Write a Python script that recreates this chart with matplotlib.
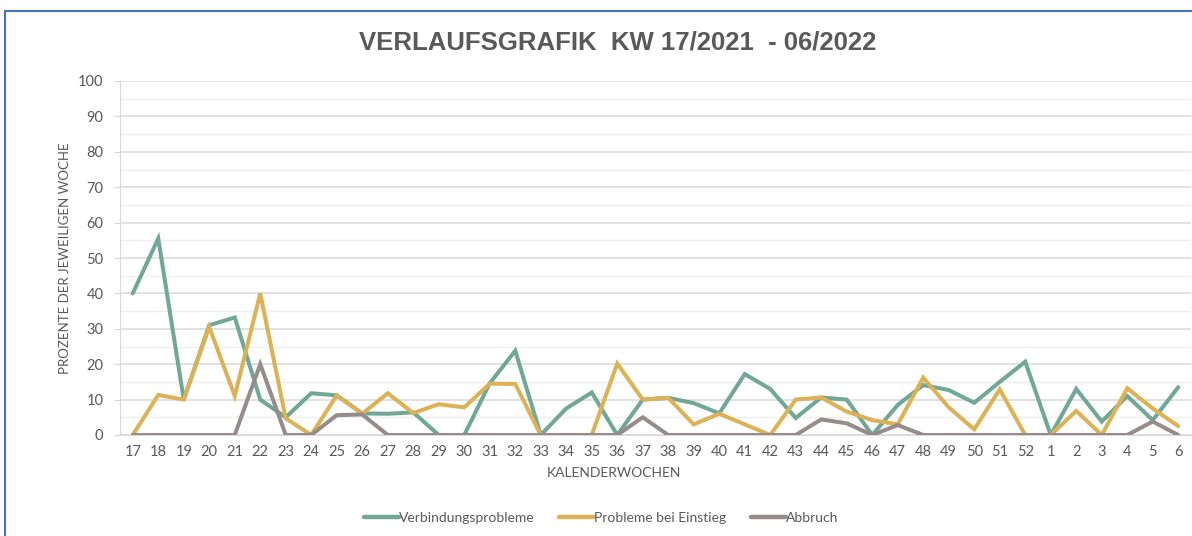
import matplotlib
matplotlib.use("Agg")
import matplotlib.pyplot as plt
from matplotlib.lines import Line2D
from matplotlib.ticker import MultipleLocator

weeks = [str(w) for w in range(17, 53)] + [str(w) for w in range(1, 7)]

verbindung = [40, 55.5, 10, 31, 33.2, 10, 5, 11.8, 11.2, 6.1, 6, 6.4,
              0, 0, 14.6, 23.8, 0, 7.5, 12, 0, 10, 10.5, 9, 6.1,
              17.2, 13, 4.8, 10.6, 10, 0, 8.5, 14.1, 12.7, 9.1, 15, 20.7,
              0, 13, 3.8, 11, 4.2, 13.5]
einstieg = [0, 11.3, 10, 30.5, 11, 40, 4.7, 0, 11.2, 6, 11.8, 6.2,
            8.7, 7.8, 14.5, 14.4, 0, 0, 0, 20.2, 10, 10.5, 3, 6,
            3, 0, 10, 10.6, 6.6, 4.2, 3, 16.2, 7.8, 1.6, 12.9, 0,
            0, 6.8, 0, 13.2, 7.5, 2.5]
abbruch = [0, 0, 0, 0, 0, 20, 0, 0, 5.6, 5.8, 0, 0,
           0, 0, 0, 0, 0, 0, 0, 0, 5, 0, 0, 0,
           0, 0, 0, 4.4, 3.3, 0, 2.8, 0, 0, 0, 0, 0,
           0, 0, 0, 0, 3.8, 0]

series_names = ["Verbindungsprobleme", "Probleme bei Einstieg", "Abbruch"]
colors = ["#70a797", "#dcb257", "#978c8c"]

W, H = 1192, 536
fig = plt.figure(figsize=(W / 100, H / 100), dpi=100)
fig.patch.set_facecolor("white")

# screenshot frame (blue)
fig.add_artist(Line2D([5 / W, 1], [1 - 11 / H, 1 - 11 / H], color="#4a72c0", lw=1.5))
fig.add_artist(Line2D([5 / W, 5 / W], [0, 1 - 11 / H], color="#4a72c0", lw=1.5))

ax = fig.add_axes([120 / W, 1 - 435 / H, 1071 / W, 354 / H])
x = list(range(len(weeks)))
for vals, c, n in zip([verbindung, einstieg, abbruch], colors, series_names):
    ax.plot(x, vals, color=c, lw=2.9, label=n, solid_capstyle="round",
            solid_joinstyle="miter", zorder=3)

ax.set_xlim(-0.5, len(weeks) - 0.5)
ax.set_ylim(0, 100)
ax.yaxis.set_major_locator(MultipleLocator(10))
ax.yaxis.set_minor_locator(MultipleLocator(5))
ax.grid(axis="y", which="major", color="#d9d9d9", lw=1.1, zorder=0)
ax.grid(axis="y", which="minor", color="#efefef", lw=1.0, zorder=0)
ax.set_axisbelow(True)
ax.set_xticks(x)
ax.set_xticklabels(weeks, fontsize=10.5, color="#595959", family="Lato")
ax.tick_params(axis="x", length=0, pad=7)
ax.tick_params(axis="y", which="major", length=4, color="#d9d9d9", labelsize=10.5,
               labelcolor="#595959", pad=8)
ax.tick_params(axis="y", which="minor", length=0)
for lab in ax.get_yticklabels():
    lab.set_family("Lato")
for s in ["top", "right"]:
    ax.spines[s].set_visible(False)
ax.spines["left"].set_color("#d9d9d9")
ax.spines["bottom"].set_color("#d9d9d9")

ax.set_ylabel("PROZENTE DER JEWEILIGEN WOCHE", fontsize=9.5, color="#595959",
              family="Lato", labelpad=5)
ax.set_xlabel("KALENDERWOCHEN", fontsize=10, color="#595959", family="Lato",
              labelpad=0)
ax.xaxis.set_label_coords((614 - 120) / 1071, -0.09)

fig.text(618 / W, 1 - 43 / H, "VERLAUFSGRAFIK  KW 17/2021  - 06/2022",
         ha="center", va="center", fontsize=18.5, fontweight="bold", color="#595959",
         family="Liberation Sans")

leg = fig.legend(loc="center", bbox_to_anchor=(601 / W, 1 - 518 / H), ncol=3,
                 frameon=False, handlelength=2.5, handletextpad=0.0,
                 columnspacing=1.8, prop={"family": "Lato", "size": 10})
for line in leg.get_lines():
    line.set_linewidth(3.2)
    line.set_solid_capstyle("round")
for t in leg.get_texts():
    t.set_color("#595959")

fig.savefig("out.png", dpi=100)
